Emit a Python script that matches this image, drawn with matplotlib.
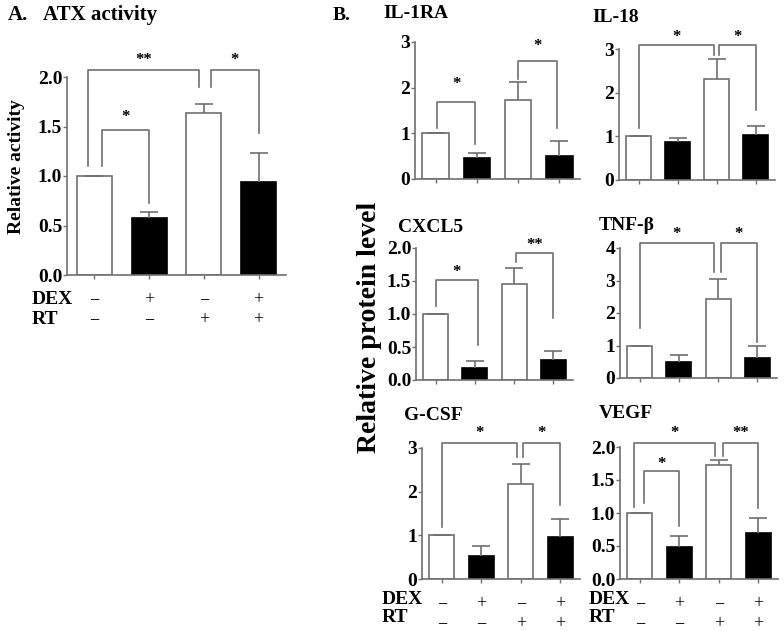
import numpy as np
import matplotlib
matplotlib.use('Agg')
import matplotlib.pyplot as plt

plt.rcParams['font.family'] = ['Liberation Serif', 'DejaVu Serif']
plt.rcParams['font.weight'] = 'bold'

# group labels under the bars
dex = ['\u2212', '+', '\u2212', '+']
rt = ['\u2212', '\u2212', '+', '+']

# A. ATX activity
atx_vals = [1.0, 0.58, 1.64, 0.94]
atx_err = [0, 0.06, 0.09, 0.29]

# B. cytokines
il1ra_vals = [1.0, 0.47, 1.74, 0.50]
il1ra_err = [0, 0.11, 0.38, 0.34]
il18_vals = [1.0, 0.87, 2.31, 1.03]
il18_err = [0, 0.09, 0.46, 0.21]
cxcl5_vals = [1.0, 0.18, 1.45, 0.30]
cxcl5_err = [0, 0.11, 0.25, 0.14]
tnfb_vals = [1.0, 0.49, 2.42, 0.61]
tnfb_err = [0, 0.22, 0.63, 0.36]
gcsf_vals = [1.0, 0.53, 2.17, 0.96]
gcsf_err = [0, 0.22, 0.46, 0.41]
vegf_vals = [1.0, 0.48, 1.72, 0.69]
vegf_err = [0, 0.17, 0.08, 0.23]

# significance brackets: (x left, x right, top, left leg end, right leg end, label, label y)
atx_sig = [(-0.12, 1.91, 2.07, 1.10, 1.90, '**', 2.17),
           (2.13, 3.00, 2.07, 1.90, 1.43, '*', 2.17),
           (0.14, 1.00, 1.46, 1.10, 0.73, '*', 1.60)]
il1ra_sig = [(0.03, 0.96, 1.69, 1.12, 0.76, '*', 2.08),
             (2.00, 2.95, 2.59, 2.20, 1.11, '*', 2.92)]
il18_sig = [(0.00, 1.94, 3.09, 1.19, 2.86, '*', 3.27),
            (2.06, 3.01, 3.09, 2.86, 1.60, '*', 3.27)]
cxcl5_sig = [(0.00, 1.08, 1.52, 1.12, 0.53, '*', 1.63),
             (2.05, 3.00, 1.92, 1.79, 0.94, '**', 2.05)]
tnfb_sig = [(0.00, 1.90, 4.15, 1.55, 3.27, '*', 4.42),
            (2.07, 2.99, 4.15, 3.27, 1.10, '*', 4.42)]
gcsf_sig = [(0.00, 1.90, 3.11, 1.20, 2.79, '*', 3.34),
            (2.06, 3.00, 3.11, 2.79, 1.70, '*', 3.34)]
vegf_sig = [(-0.15, 1.90, 2.06, 1.09, 1.86, '*', 2.21),
            (2.10, 3.00, 2.06, 1.86, 1.07, '**', 2.21),
            (0.12, 1.00, 1.64, 1.15, 0.80, '*', 1.74)]

W, H = 784, 631
GREY = '#707070'
fig = plt.figure(figsize=(W / 100, H / 100), dpi=100)


def panel(box, vals, err, ymax, yticks, fmt, sig, tsize=14, sign_rows=False):
    left, top, right, bottom = box
    ax = fig.add_axes([left / W, 1 - bottom / H, (right - left) / W, (bottom - top) / H])
    x = np.arange(len(vals))
    ax.bar(x, vals, width=0.64, color=['white', 'black', 'white', 'black'],
           edgecolor=[GREY, 'black', GREY, 'black'], linewidth=1.2, zorder=2)
    eb = ax.errorbar(x, vals, yerr=[np.zeros(len(vals)), err], fmt='none',
                     ecolor=GREY, elinewidth=1.2, capsize=6.5, capthick=1.2, zorder=3)
    eb[1][0].set_visible(False)  # hide lower caps
    ax.set_xlim(-0.5, 3.5)
    ax.set_ylim(0, ymax)
    ax.set_yticks(yticks)
    ax.set_yticklabels([fmt % t for t in yticks], fontsize=tsize, fontweight='bold')
    ax.set_xticks(x)
    ax.set_xticklabels([])
    for s in ['top', 'right']:
        ax.spines[s].set_visible(False)
    for s in ['left', 'bottom']:
        ax.spines[s].set_color(GREY)
        ax.spines[s].set_linewidth(1.2)
    ax.tick_params(colors=GREY, length=3, width=1, pad=0.5, labelcolor='black')
    for x1, x2, yt, y1, y2, lab, ly in sig:
        ax.plot([x1, x1, x2, x2], [y1, yt, yt, y2], color=GREY, lw=1.2, clip_on=False)
        ax.text((x1 + x2) / 2, ly, lab, ha='center', va='center', fontsize=12,
                fontweight='bold', clip_on=False)
    if sign_rows:
        for i in x:
            ax.annotate(dex[i], (i, 0), xycoords=('data', 'axes fraction'), xytext=(0, -17.5),
                        textcoords='offset points', ha='center', va='center', fontsize=13,
                        fontweight='normal')
            ax.annotate(rt[i], (i, 0), xycoords=('data', 'axes fraction'), xytext=(0, -32),
                        textcoords='offset points', ha='center', va='center', fontsize=13,
                        fontweight='normal')
    return ax


def ftext(x, y, s, **kw):
    fig.text(x / W, 1 - y / H, s, **kw)


half = [0, 0.5, 1.0, 1.5, 2.0]

panel((67, 77, 286, 275), atx_vals, atx_err, 2.0, half, '%.1f', atx_sig, sign_rows=True)
ftext(8, 15, 'A.', fontsize=15, ha='left', va='center')
ftext(43, 15, 'ATX activity', fontsize=15, ha='left', va='center')
ftext(17, 167, 'Relative activity', fontsize=14, rotation=90, ha='center', va='center')
ftext(32, 299, 'DEX', fontsize=14, ha='left', va='center')
ftext(32, 320, 'RT', fontsize=14, ha='left', va='center')

panel((415, 42, 580, 179), il1ra_vals, il1ra_err, 3, [0, 1, 2, 3], '%d', il1ra_sig)
panel((619, 49, 775, 180), il18_vals, il18_err, 3, [0, 1, 2, 3], '%d', il18_sig)
panel((416, 248, 573, 380), cxcl5_vals, cxcl5_err, 2.0, half, '%.1f', cxcl5_sig)
panel((620, 248, 777, 378), tnfb_vals, tnfb_err, 4, [0, 1, 2, 3, 4], '%d', tnfb_sig)
panel((422, 448, 580, 579), gcsf_vals, gcsf_err, 3, [0, 1, 2, 3], '%d', gcsf_sig, sign_rows=True)
panel((620, 447, 778, 579), vegf_vals, vegf_err, 2.0, half, '%.1f', vegf_sig, sign_rows=True)

ftext(333, 15, 'B.', fontsize=14, ha='left', va='center')
ftext(383, 14, 'IL-1RA', fontsize=14, ha='left', va='center')
ftext(592, 17, 'IL-18', fontsize=14, ha='left', va='center')
ftext(398, 228, 'CXCL5', fontsize=14, ha='left', va='center')
ftext(599, 225, 'TNF-\u03b2', fontsize=14, ha='left', va='center')
ftext(404, 415, 'G-CSF', fontsize=14, ha='left', va='center')
ftext(599, 414, 'VEGF', fontsize=14, ha='left', va='center')
ftext(370, 327, 'Relative protein level', fontsize=20, rotation=90, ha='center', va='center')
ftext(382, 599, 'DEX', fontsize=14, ha='left', va='center')
ftext(382, 618, 'RT', fontsize=14, ha='left', va='center')
ftext(589, 599, 'DEX', fontsize=14, ha='left', va='center')
ftext(589, 618, 'RT', fontsize=14, ha='left', va='center')

plt.savefig('out.png', dpi=100)
